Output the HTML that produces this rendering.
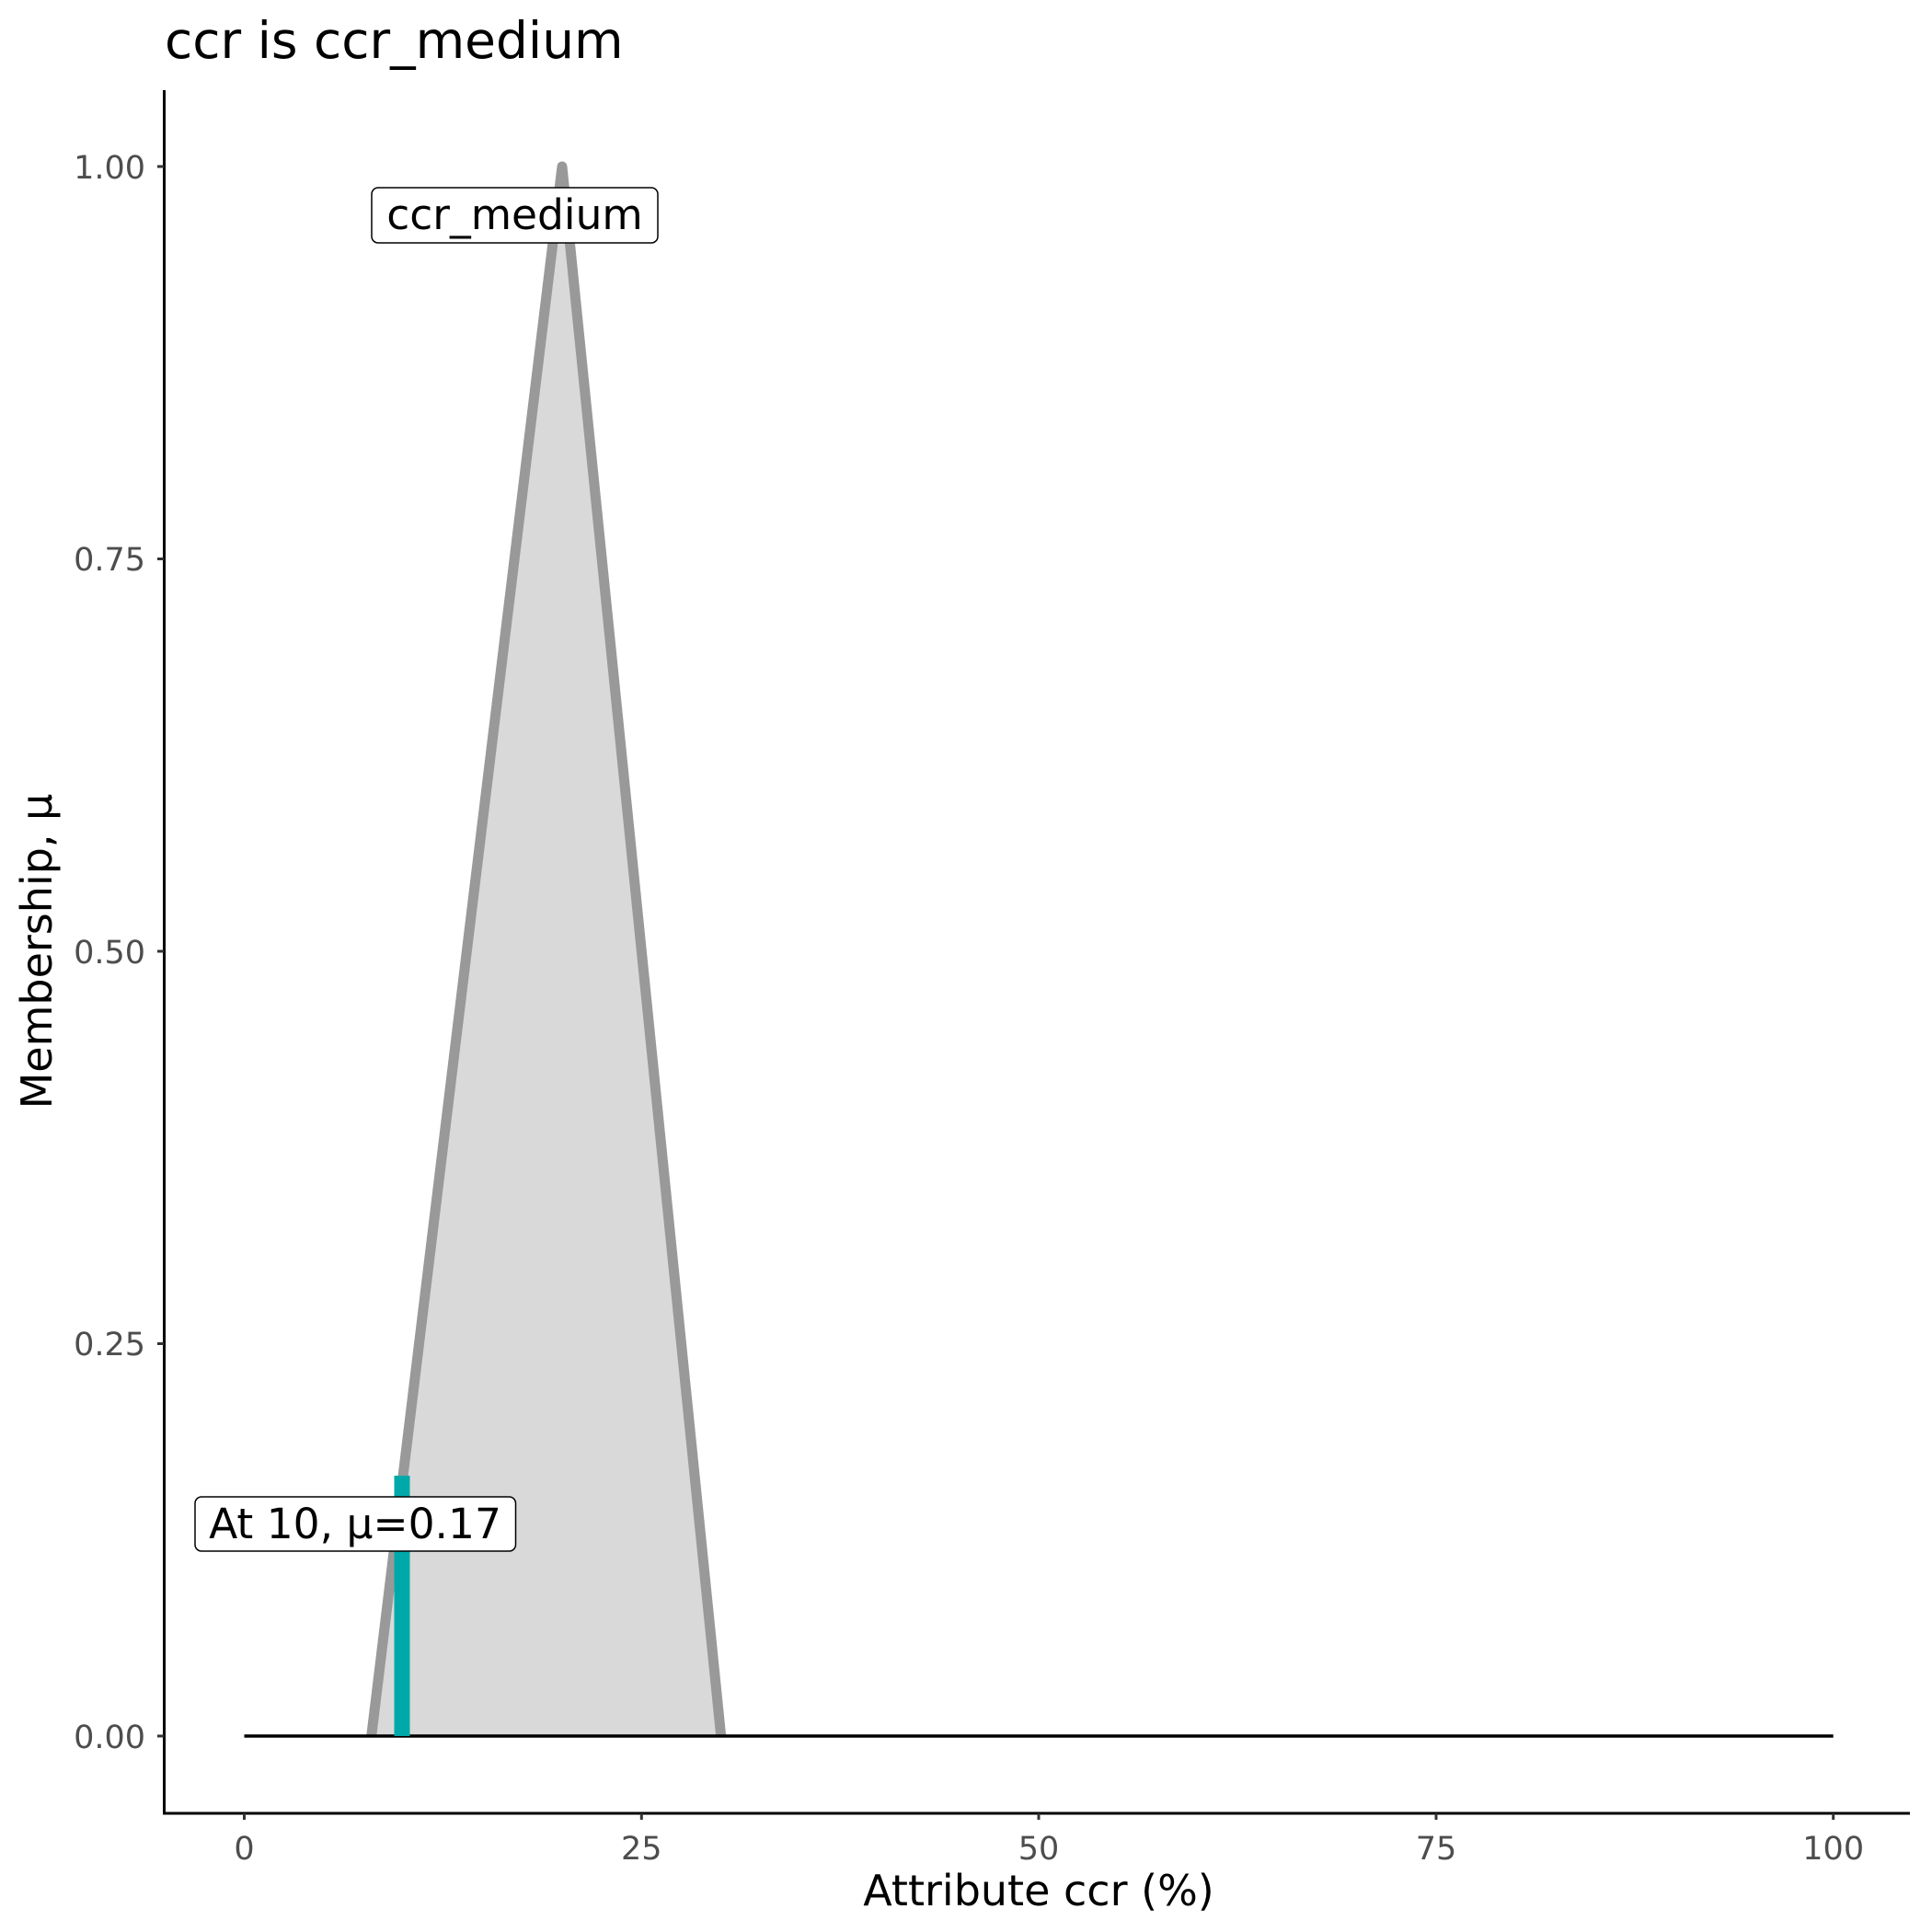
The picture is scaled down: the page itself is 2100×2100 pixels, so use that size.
<!DOCTYPE html>
<html><head><style>body{margin:0;background:#fff}svg{display:block}</style></head><body>
<svg width="2100" height="2100" xmlns="http://www.w3.org/2000/svg" font-family="DejaVu Sans, Liberation Sans, sans-serif">
<rect width="2100" height="2100" fill="#fff"/>
<text x="179" y="63" font-size="55" fill="#000">ccr is ccr_medium</text>
<polygon points="403.7,1887 611,181 783.7,1887" fill="#d9d9d9"/>
<polyline points="403.7,1887 611,181 783.7,1887" fill="none" stroke="#999" stroke-width="11" stroke-linejoin="round"/>
<line x1="265.5" y1="1887" x2="1992.7" y2="1887" stroke="#000" stroke-width="3.5"/>
<line x1="437" y1="1887" x2="437" y2="1604" stroke="#00a9a9" stroke-width="17"/>
<rect x="404" y="204" width="311" height="60" rx="7" fill="#fff" stroke="#000" stroke-width="1.5"/>
<text x="559.5" y="249" font-size="45.5" text-anchor="middle">ccr_medium</text>
<rect x="212" y="1627" width="348.5" height="59" rx="7" fill="#fff" stroke="#000" stroke-width="1.5"/>
<text x="386" y="1672" font-size="45.5" text-anchor="middle">At 10, μ=0.17</text>
<g stroke="#000" stroke-width="3">
<line x1="178.5" y1="98" x2="178.5" y2="1972"/>
<line x1="177" y1="1971" x2="2076" y2="1971"/>
</g>
<g stroke="#333" stroke-width="3">
<line x1="171" y1="181" x2="178" y2="181"/><line x1="171" y1="607.5" x2="178" y2="607.5"/>
<line x1="171" y1="1034" x2="178" y2="1034"/><line x1="171" y1="1460.5" x2="178" y2="1460.5"/>
<line x1="171" y1="1887" x2="178" y2="1887"/>
<line x1="265.5" y1="1971" x2="265.5" y2="1978"/><line x1="697.3" y1="1971" x2="697.3" y2="1978"/>
<line x1="1129" y1="1971" x2="1129" y2="1978"/><line x1="1561" y1="1971" x2="1561" y2="1978"/>
<line x1="1992.7" y1="1971" x2="1992.7" y2="1978"/>
</g>
<g font-size="35" fill="#4d4d4d" text-anchor="end">
<text x="158" y="194">1.00</text><text x="158" y="620">0.75</text><text x="158" y="1047">0.50</text>
<text x="158" y="1473">0.25</text><text x="158" y="1900">0.00</text>
</g>
<g font-size="35" fill="#4d4d4d" text-anchor="middle">
<text x="265.5" y="2021">0</text><text x="697.3" y="2021">25</text><text x="1129" y="2021">50</text>
<text x="1561" y="2021">75</text><text x="1992.7" y="2021">100</text>
</g>
<text x="1129" y="2071" font-size="46" text-anchor="middle">Attribute ccr (%)</text>
<text transform="translate(56,1034) rotate(-90)" font-size="46" text-anchor="middle">Membership, μ</text>
</svg>
</body></html>
